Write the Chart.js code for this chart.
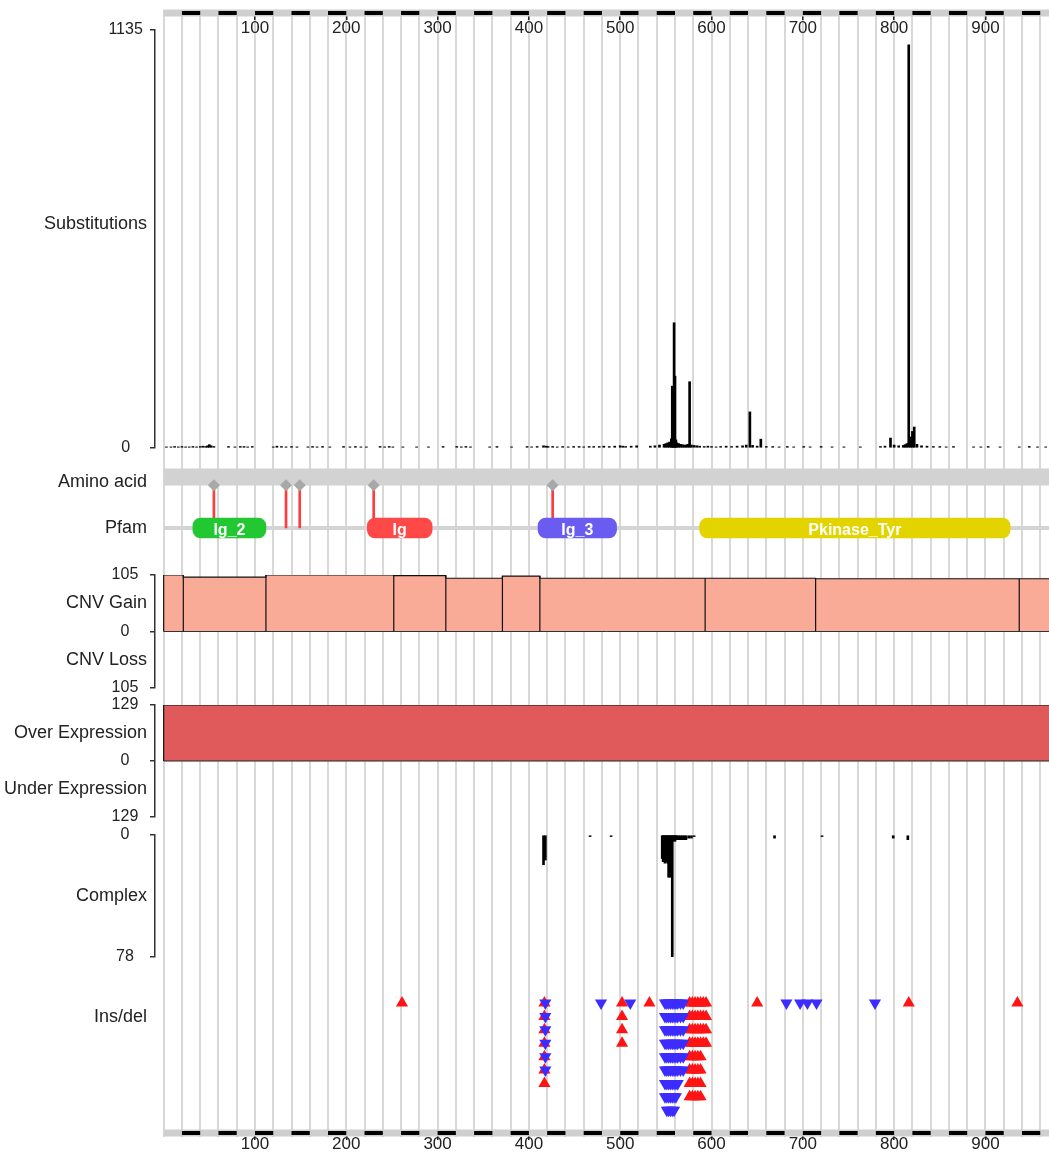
<!DOCTYPE html>
<html>
<head>
<meta charset="utf-8">
<title>KIT - mutation distribution</title>
<script src="https://cdn.jsdelivr.net/npm/chart.js@4.4.1/dist/chart.umd.min.js"></script>
<style>
  html, body { margin: 0; padding: 0; background: #fff; }
  #wrap { position: relative; width: 1049px; height: 1159px; overflow: hidden; }
  #wrap canvas { position: absolute; left: 0; }
</style>
</head>
<body>
<div id="wrap">
  <canvas id="grid" width="1049" height="1159" style="top:0px"></canvas>
  <canvas id="rulerTop" width="1049" height="40" style="top:0px"></canvas>
  <canvas id="subs" width="1049" height="440" style="top:20px"></canvas>
  <canvas id="protein" width="1049" height="125" style="top:440px"></canvas>
  <canvas id="cnv" width="1049" height="133" style="top:565px"></canvas>
  <canvas id="expr" width="1049" height="132" style="top:695px"></canvas>
  <canvas id="complex" width="1049" height="142" style="top:825px"></canvas>
  <canvas id="indel" width="1049" height="140" style="top:985px"></canvas>
  <canvas id="rulerBottom" width="1049" height="40" style="top:1119px"></canvas>
</div>
<script>
// residue axis (picture is cut at about residue 970)
const X_MIN = -9.5;
const X_MAX = 969.6;
const AXIS_W = 155;
const FONT = "'Liberation Sans', Arial, Helvetica, sans-serif";

const rulerTicks = [100, 200, 300, 400, 500, 600, 700, 800, 900];

// substitutions per residue
const subPositions = [
  3, 8, 12, 16, 20, 24, 28, 32, 36, 40, 43, 46, 48, 50, 52, 55,
  71, 78, 84, 88, 92, 97, 120, 124, 129, 134, 140, 146,
  158, 163, 168, 174, 182, 197, 204, 210, 216, 222, 237, 242, 247, 251,
  262, 277, 290, 306, 321, 326, 331, 336, 357, 365, 381, 398, 403, 409,
  416, 419, 421, 426, 431, 437, 443, 449, 455, 460, 466, 471, 477, 482,
  488, 494, 500, 503, 506, 512, 518, 533, 538, 543, 548, 550, 552, 554,
  556, 557, 558, 559, 560, 561, 562, 564, 566, 568, 570, 572, 574, 576, 578,
  581, 584, 587, 592, 596, 600, 605, 610, 616, 622, 628, 634, 638, 642, 645,
  650, 654, 660, 667, 674, 683, 690, 701, 708, 720, 732, 745, 763,
  785, 790, 796, 800, 805, 810, 812, 814, 816, 818, 820, 822, 825,
  830, 836, 843, 850, 857, 865, 887, 895, 903, 916, 937, 948, 957, 966
];
const subCounts = [
  3, 3, 4, 3, 4, 3, 3, 4, 3, 4, 5, 4, 6, 9, 6, 4,
  4, 3, 4, 4, 3, 4, 3, 5, 4, 3, 4, 3,
  3, 4, 3, 4, 3, 4, 3, 4, 3, 3, 4, 3, 4, 3,
  3, 3, 3, 4, 4, 3, 4, 3, 3, 4, 3, 4, 3, 4,
  6, 5, 4, 4, 3, 4, 3, 4, 4, 3, 4, 4, 4, 5,
  4, 5, 6, 5, 4, 5, 6, 5, 6, 8, 10, 12, 14, 16,
  25, 168, 60, 340, 195, 22, 14, 12, 10, 9, 8, 8, 10, 180, 8,
  7, 6, 5, 4, 5, 4, 3, 4, 5, 4, 5, 6, 8, 98, 7,
  5, 24, 4, 4, 3, 4, 3, 4, 3, 4, 3, 3, 3,
  4, 5, 27, 8, 6, 7, 9, 12, 1095, 30, 45, 57, 10,
  6, 5, 4, 4, 3, 4, 3, 3, 4, 3, 3, 4, 3, 3
];

// amino acid marks and Pfam domains
const aaMarks = [55, 134, 149, 230, 426];
const domainNames = ['Ig_2', 'Ig', 'Ig_3', 'Pkinase_Tyr'];
const domainStarts = [32, 223, 410, 587];
const domainEnds = [112, 294, 496, 927];
const domainColors = ['#22c832', '#ff4848', '#6a5cf0', '#e3d400'];

// CNV gain segments (loss is empty)
const cnvBreaks = [0, 21.5, 112, 252, 309, 371, 412, 593, 714, 937, 976];
const cnvGain = [105, 101, 105, 104, 99, 103, 99, 99, 98, 98];

// expression (under expression is empty)
const exprBreaks = [0, 976];
const exprOver = [129];

// complex mutations
const complexPositions = [416, 418, 467, 490,
  546, 547, 548, 549, 550, 551, 552, 553, 554, 555, 556, 557, 558, 559, 560, 561, 562,
  564, 566, 568, 570, 572, 575, 578, 581, 669, 721, 799, 815];
const complexCounts = [19, 16, 1, 1,
  15, 17, 17, 18, 17, 17, 18, 27, 26, 27, 25, 78, 4, 3, 4, 3, 3,
  3, 3, 3, 3, 3, 2, 2, 1, 2, 1, 2, 3];

// insertions / deletions
const insPositions = [261, 417, 502, 532, 576, 579, 582, 585, 588, 591, 594, 650, 816, 935];
const insCounts = [1, 7, 4, 1, 8, 8, 8, 8, 8, 4, 4, 1, 1, 1];
const delPositions = [418, 479, 511, 549, 551, 553, 555, 557, 559, 561, 563, 566, 569, 682, 697, 705, 715, 779];
const delCounts = [6, 1, 1, 8, 9, 9, 9, 9, 9, 8, 7, 6, 6, 1, 1, 1, 1, 1];

// ---------- helpers ----------
const rowLabelPlugin = {
  id: 'rowLabels',
  afterDraw(chart, args, opts) {
    if (!opts.items) return;
    const ctx = chart.ctx;
    const y = chart.scales.y;
    ctx.save();
    ctx.font = '18px ' + FONT;
    ctx.fillStyle = '#222';
    ctx.textAlign = 'right';
    ctx.textBaseline = 'middle';
    opts.items.forEach((it) => ctx.fillText(it.text, 147, y.getPixelForValue(it.value)));
    ctx.restore();
  }
};
Chart.register(rowLabelPlugin);

function baseOptions(padding, scales, plugins) {
  return {
    responsive: false,
    animation: false,
    devicePixelRatio: 1,
    events: [],
    layout: { padding, autoPadding: false },
    plugins: Object.assign({ legend: { display: false }, tooltip: { enabled: false } }, plugins || {}),
    scales
  };
}

function hiddenX() {
  return { type: 'linear', min: X_MIN, max: X_MAX, offset: false, display: false };
}

// left bracket axis, tick labels centred at x=125
function bracketAxis(min, max, ticks, pad, reverse) {
  return {
    type: 'linear', min, max, reverse: !!reverse, offset: false,
    afterFit: (s) => { s.width = AXIS_W; s.paddingTop = 0; s.paddingBottom = 0; },
    afterBuildTicks: (s) => { s.ticks = ticks.map((v) => ({ value: v })); },
    border: { display: true, color: '#333', width: 1.5 },
    grid: { drawOnChartArea: false, drawTicks: true, tickLength: 5, color: '#333', lineWidth: 1.5 },
    ticks: {
      autoSkip: false, crossAlign: 'center', padding: pad, color: '#222',
      font: { family: FONT, size: 16 }, callback: (v) => Math.abs(v)
    }
  };
}

function hiddenY(min, max, reverse) {
  return { type: 'linear', display: false, offset: false, min, max, reverse: !!reverse };
}

function pairs(xs, ys) {
  return xs.map((x, i) => ({ x, y: ys[i] }));
}

function outline(breaks, values) {
  const pts = [];
  values.forEach((v, i) => pts.push({ x: breaks[i], y: v }, { x: breaks[i + 1], y: v }));
  return pts;
}

function separators(breaks, values) {
  const pts = [];
  breaks.forEach((b, i) => {
    const h = Math.max(values[i - 1] || 0, values[i] || 0);
    pts.push({ x: b, y: 0 }, { x: b, y: h }, { x: b, y: null });
  });
  return pts;
}

function stackRows(positions, counts) {
  const pts = [];
  positions.forEach((p, i) => {
    for (let r = 0; r < counts[i]; r++) pts.push({ x: p, y: r });
  });
  return pts;
}

// ---------- background grid ----------
new Chart(document.getElementById('grid'), {
  type: 'line',
  data: { datasets: [] },
  options: baseOptions({ left: AXIS_W, right: 0, top: 10, bottom: 22 }, {
    x: {
      type: 'linear', min: X_MIN, max: X_MAX, offset: false,
      afterBuildTicks: (s) => {
        const t = [];
        for (let v = 0; v <= 960; v += 20) t.push({ value: v });
        s.ticks = t;
      },
      afterFit: (s) => { s.height = 0; },
      border: { display: false },
      grid: { color: '#d8d8d8', lineWidth: 2, drawTicks: false },
      ticks: { display: false }
    },
    y: hiddenY(0, 1)
  })
});

// ---------- rulers ----------
function ruler(id, padTop, axisH, labelPad) {
  const dashes = [];
  for (let s = 20; s < X_MAX; s += 40) {
    dashes.push({ x: s, y: 0 }, { x: Math.min(s + 20, X_MAX), y: 0 }, { x: s + 20, y: null });
  }
  new Chart(document.getElementById(id), {
    type: 'line',
    data: {
      datasets: [
        { data: dashes, borderColor: '#000', borderWidth: 4, pointRadius: 0, spanGaps: false, borderCapStyle: 'butt', clip: false },
        { data: [{ x: 0, y: 0 }, { x: X_MAX, y: 0 }], borderColor: '#cfcfcf', borderWidth: 7, pointRadius: 0, clip: false }
      ]
    },
    options: baseOptions({ left: AXIS_W, right: 0, top: padTop, bottom: 0 }, {
      x: {
        type: 'linear', min: X_MIN, max: X_MAX, offset: false, position: 'bottom',
        afterBuildTicks: (s) => { s.ticks = rulerTicks.map((v) => ({ value: v })); },
        afterFit: (s) => { s.height = axisH; s.paddingLeft = 0; s.paddingRight = 0; },
        border: { display: false },
        grid: { drawOnChartArea: false, tickLength: 4, color: '#222', lineWidth: 1.5 },
        ticks: { autoSkip: false, maxRotation: 0, padding: labelPad, color: '#222', font: { family: FONT, size: 17 } }
      },
      y: hiddenY(-1, 1)
    })
  });
}
ruler('rulerTop', 10, 24, -2);
ruler('rulerBottom', 11, 23, -6);

// ---------- substitutions ----------
new Chart(document.getElementById('subs'), {
  type: 'bar',
  data: {
    datasets: [{ data: pairs(subPositions, subCounts), backgroundColor: '#000', barThickness: 2, grouped: false }]
  },
  options: baseOptions({ left: 0, right: 0, top: 10, bottom: 12 }, {
    x: hiddenX(),
    y: bracketAxis(0, 1135, [0, 1135], 7.2)
  }, { rowLabels: { items: [{ text: 'Substitutions', value: 608 }] } })
});

// ---------- amino acid / Pfam ----------
const PFAM_ROW = 0;
const AMINO_ROW = 1;
const MARK_ROW = 0.84;
const domainLabelPlugin = {
  id: 'domainLabels',
  afterDatasetsDraw(chart) {
    const meta = chart.getDatasetMeta(0);
    const ctx = chart.ctx;
    ctx.save();
    ctx.font = 'bold 16px ' + FONT;
    ctx.fillStyle = '#fff';
    ctx.textAlign = 'center';
    ctx.textBaseline = 'middle';
    meta.data.forEach((bar, i) => {
      const left = Math.min(bar.x, bar.base);
      const w = Math.abs(bar.x - bar.base);
      ctx.save();
      ctx.beginPath();
      ctx.rect(left, bar.y - 10, w, 20);
      ctx.clip();
      ctx.fillText(domainNames[i], left + w / 2, bar.y + 3);
      ctx.restore();
    });
    ctx.restore();
  }
};
new Chart(document.getElementById('protein'), {
  type: 'bar',
  data: {
    datasets: [
      {
        indexAxis: 'y', grouped: false, order: 0,
        data: domainNames.map((n, i) => ({ y: PFAM_ROW, x: [domainStarts[i], domainEnds[i]] })),
        backgroundColor: domainColors, barThickness: 20, borderRadius: 8, borderSkipped: false
      },
      {
        type: 'line', order: 1, showLine: false,
        data: aaMarks.map((p) => ({ x: p, y: MARK_ROW })),
        pointStyle: 'rectRot', pointRadius: 6, pointBackgroundColor: '#a8a8a8', pointBorderWidth: 0, clip: false
      },
      {
        grouped: false, order: 2,
        data: aaMarks.map((p) => ({ x: p, y: [PFAM_ROW, MARK_ROW] })),
        backgroundColor: '#ff3b3b', barThickness: 2
      },
      {
        type: 'line', order: 3,
        data: [{ x: 0, y: PFAM_ROW }, { x: X_MAX, y: PFAM_ROW }],
        borderColor: '#d4d4d4', borderWidth: 4, pointRadius: 0
      },
      {
        type: 'line', order: 4,
        data: [{ x: 0, y: AMINO_ROW }, { x: X_MAX, y: AMINO_ROW }],
        borderColor: '#d2d2d2', borderWidth: 17, pointRadius: 0, borderCapStyle: 'butt'
      }
    ]
  },
  options: baseOptions({ left: AXIS_W, right: 0, top: 11.5, bottom: 11.5 }, {
    x: hiddenX(),
    y: hiddenY(-0.5, 1.5)
  }, { rowLabels: { items: [{ text: 'Amino acid', value: 0.9 }, { text: 'Pfam', value: 0 }] } }),
  plugins: [domainLabelPlugin]
});

// ---------- CNV ----------
new Chart(document.getElementById('cnv'), {
  type: 'line',
  data: {
    datasets: [
      { data: separators(cnvBreaks, cnvGain), borderColor: '#111', borderWidth: 1.2, pointRadius: 0, spanGaps: false },
      { data: [{ x: 0, y: 0 }, { x: X_MAX, y: 0 }], borderColor: '#333', borderWidth: 1, pointRadius: 0 },
      { data: outline(cnvBreaks, cnvGain), fill: 'origin', backgroundColor: '#f9ab97', borderColor: '#111', borderWidth: 1.2, pointRadius: 0 }
    ]
  },
  options: baseOptions({ left: 0, right: 0, top: 10, bottom: 10 }, {
    x: hiddenX(),
    y: bracketAxis(-105, 105, [-105, 0, 105], 11.7)
  }, { rowLabels: { items: [{ text: 'CNV Gain', value: 52 }, { text: 'CNV Loss', value: -53 }] } })
});

// ---------- expression ----------
new Chart(document.getElementById('expr'), {
  type: 'line',
  data: {
    datasets: [
      { data: separators(exprBreaks, exprOver), borderColor: '#111', borderWidth: 1.2, pointRadius: 0, spanGaps: false },
      { data: [{ x: 0, y: 0 }, { x: X_MAX, y: 0 }], borderColor: '#222', borderWidth: 1.2, pointRadius: 0 },
      { data: outline(exprBreaks, exprOver), fill: 'origin', backgroundColor: '#e05a5b', borderColor: '#111', borderWidth: 1.2, pointRadius: 0 }
    ]
  },
  options: baseOptions({ left: 0, right: 0, top: 10, bottom: 10 }, {
    x: hiddenX(),
    y: bracketAxis(-129, 129, [-129, 0, 129], 11.7)
  }, { rowLabels: { items: [{ text: 'Over Expression', value: 64 }, { text: 'Under Expression', value: -64 }] } })
});

// ---------- complex ----------
new Chart(document.getElementById('complex'), {
  type: 'bar',
  data: {
    datasets: [{ data: pairs(complexPositions, complexCounts), backgroundColor: '#000', barThickness: 2, grouped: false }]
  },
  options: baseOptions({ left: 0, right: 0, top: 10, bottom: 10 }, {
    x: hiddenX(),
    y: bracketAxis(0, 78, [0, 78], 16.1, true)
  }, { rowLabels: { items: [{ text: 'Complex', value: 39 }] } })
});

// ---------- ins/del ----------
new Chart(document.getElementById('indel'), {
  type: 'scatter',
  data: {
    datasets: [
      {
        data: stackRows(delPositions, delCounts), order: 0,
        pointStyle: 'triangle', rotation: 180, pointRadius: 7,
        backgroundColor: '#3d2cff', borderWidth: 0, clip: false
      },
      {
        data: stackRows(insPositions, insCounts), order: 1,
        pointStyle: 'triangle', pointRadius: 7,
        backgroundColor: '#ff1414', borderWidth: 0, clip: false
      }
    ]
  },
  options: baseOptions({ left: AXIS_W, right: 0, top: 10, bottom: 4 }, {
    x: hiddenX(),
    y: hiddenY(-0.6, 8.8, true)
  }, { rowLabels: { items: [{ text: 'Ins/del', value: 1.05 }] } })
});
</script>
</body>
</html>
